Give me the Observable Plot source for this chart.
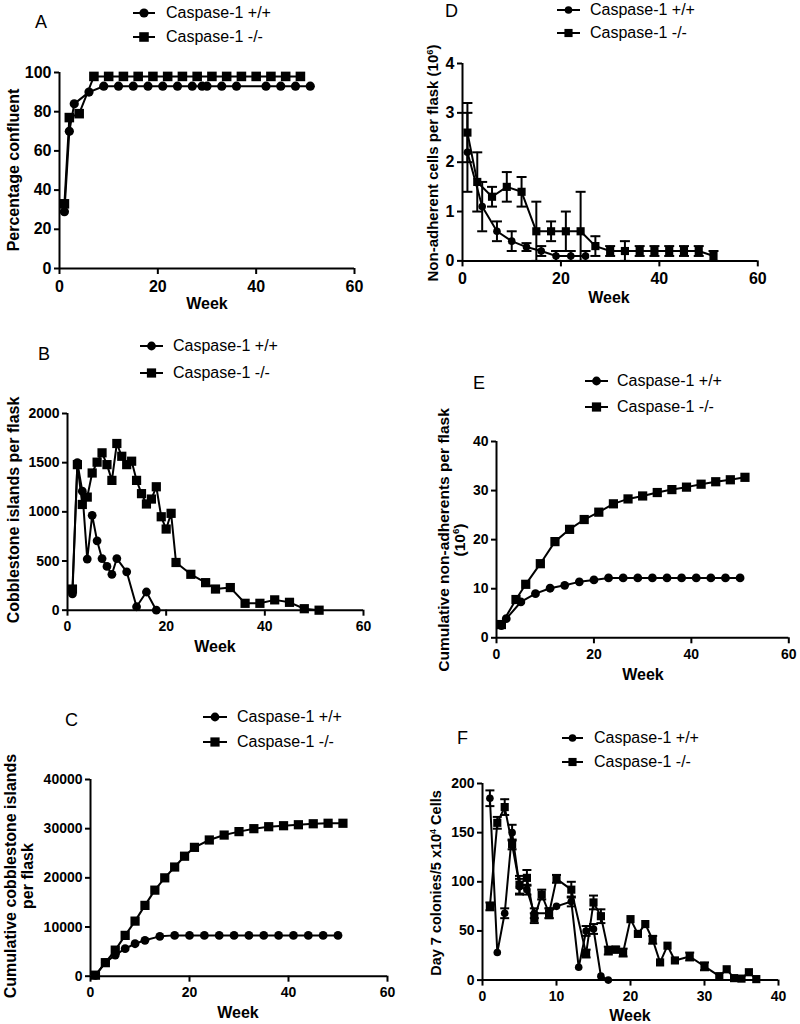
<!DOCTYPE html>
<html>
<head>
<meta charset="utf-8">
<script src="https://cdn.jsdelivr.net/npm/d3@7"></script>
<script src="https://cdn.jsdelivr.net/npm/@observablehq/plot@0.6"></script>
<style>
  body { margin: 0; background: #fff; }
  #fig { position: relative; width: 800px; height: 1024px; overflow: hidden; background: #fff;
         font-family: "Liberation Sans", Arial, Helvetica, sans-serif; color: #000; }
  .abs { position: absolute; white-space: nowrap; line-height: 1; }
  .ytitle { font-weight: bold; text-align: center; transform: translate(-50%, -50%) rotate(-90deg); line-height: 1.05; }
  .xtitle { font-weight: bold; font-size: 16px; transform: translate(-50%, -50%); }
  .letter { font-size: 18px; transform: translateY(-50%); }
  .legtext { font-size: 16px; transform: translateY(-50%); }
  sup { font-size: 0.62em; vertical-align: 0.55em; line-height: 0; }
  #fig g[aria-label$="axis tick"] path, #fig g[aria-label$="axis"] .tick line { stroke-width: 2px; }
</style>
</head>
<body>
<div id="fig"></div>
<script>
// ---------------- DATA ----------------
const seriesNames = ["Caspase-1 +/+", "Caspase-1 -/-"];

// A: Percentage confluent
const aWeeksWT = [1, 2, 3, 6, 9, 12, 15, 18, 21, 24, 27, 29, 30, 33, 36, 42, 45, 48, 51];
const aValsWT  = [29, 70, 84, 90, 93, 93, 93, 93, 93, 93, 93, 93, 93, 93, 93, 93, 93, 93, 93];
const aWeeksKO = [1, 2, 4, 7, 10, 13, 16, 19, 22, 25, 28, 31, 34, 37, 40, 43, 46, 49];
const aValsKO  = [33, 77, 79, 98, 98, 98, 98, 98, 98, 98, 98, 98, 98, 98, 98, 98, 98, 98];

// B: Cobblestone islands per flask
const bWeeksWT = [1, 2, 3, 4, 5, 6, 7, 8, 9, 10, 12, 14, 16, 18];
const bValsWT  = [165, 1500, 1210, 520, 965, 705, 525, 445, 365, 525, 390, 35, 185, 0];
const bWeeksKO = [1, 2, 3, 4, 5, 6, 7, 8, 9, 10, 11, 12, 13, 14, 15, 16, 17, 18, 19, 20, 21, 22, 25, 28, 30, 33, 36, 39, 42, 45, 48, 51];
const bValsKO  = [215, 1480, 1075, 1150, 1395, 1505, 1600, 1480, 1320, 1695, 1565, 1480, 1515, 1320, 1185, 1080, 1130, 1255, 950, 825, 985, 485, 365, 280, 215, 230, 70, 70, 105, 80, 15, 0];

// C: Cumulative cobblestone islands per flask
const cWeeksWT = [1, 3, 5, 7, 9, 11, 14, 17, 20, 23, 26, 29, 32, 35, 38, 41, 44, 47, 50];
const cValsWT  = [170, 2750, 4300, 5600, 6600, 7300, 8100, 8300, 8300, 8300, 8300, 8300, 8300, 8300, 8300, 8300, 8300, 8300, 8300];
const cWeeksKO = [1, 3, 5, 7, 9, 11, 13, 15, 17, 19, 21, 24, 27, 30, 33, 36, 39, 42, 45, 48, 51];
const cValsKO  = [210, 2750, 5300, 8300, 11200, 14400, 17500, 20000, 22200, 24400, 26200, 27700, 28700, 29400, 30000, 30400, 30600, 30800, 31000, 31100, 31100];

// D: Non-adherent cells per flask (10^6), mean and error
const dWeeksWT = [1, 4, 7, 10, 13, 16, 19, 22, 25];
const dValsWT  = [2.2, 1.1, 0.6, 0.4, 0.28, 0.2, 0.1, 0.1, 0.1];
const dErrWT   = [0.8, 0.5, 0.2, 0.2, 0.08, 0.1, 0.1, 0.1, 0.1];
const dWeeksKO = [1, 3, 6, 9, 12, 15, 18, 21, 24, 27, 30, 33, 36, 39, 42, 45, 48, 51];
const dValsKO  = [2.6, 1.6, 1.3, 1.5, 1.4, 0.6, 0.6, 0.6, 0.6, 0.3, 0.2, 0.2, 0.2, 0.2, 0.2, 0.2, 0.2, 0.1];
const dErrKO   = [0.6, 0.6, 0.2, 0.3, 0.3, 0.6, 0.2, 0.4, 0.8, 0.2, 0.1, 0.2, 0.1, 0.1, 0.1, 0.1, 0.1, 0.1];

// E: Cumulative non-adherents per flask (10^6)
const eWeeksWT = [1, 2, 5, 8, 11, 14, 17, 20, 23, 26, 29, 32, 35, 38, 41, 44, 47, 50];
const eValsWT  = [2.5, 3.9, 7.3, 9.0, 10.1, 10.7, 11.4, 11.8, 12.2, 12.2, 12.2, 12.2, 12.2, 12.2, 12.2, 12.2, 12.2, 12.2];
const eWeeksKO = [1, 4, 6, 9, 12, 15, 18, 21, 24, 27, 30, 33, 36, 39, 42, 45, 48, 51];
const eValsKO  = [2.7, 7.8, 10.9, 15.1, 19.6, 22.1, 24.1, 25.6, 27.3, 28.3, 28.9, 29.6, 30.2, 30.7, 31.3, 31.8, 32.2, 32.7];

// F: Day 7 colonies / 5x10^4 cells, mean and error
const fWeeksWT = [1, 2, 3, 4, 5, 6, 7, 9, 10, 12, 13, 14, 15, 16, 17];
const fValsWT  = [185, 28, 68, 150, 95, 92, 68, 68, 75, 80, 13, 50, 52, 4, 0];
const fErrWT   = [8, 0, 5, 8, 8, 5, 5, 5, 0, 5, 0, 5, 5, 0, 0];
const fWeeksKO = [1, 2, 3, 4, 5, 6, 7, 8, 9, 10, 12, 14, 15, 16, 17, 18, 19, 20, 21, 22, 23, 24, 25, 26, 28, 30, 32, 33, 34, 35, 36, 37];
const fValsKO  = [75, 160, 176, 138, 97, 104, 63, 87, 68, 103, 92, 27, 79, 65, 30, 31, 28, 62, 47, 57, 41, 18, 35, 20, 24, 14, 4, 11, 2, 1.5, 8, 1];
const fErrKO   = [4, 6, 8, 5, 9, 8, 5, 5, 5, 4, 8, 4, 7, 7, 4, 3, 4, 0, 0, 0, 4, 0, 0, 0, 4, 4, 0, 0, 0, 0, 0, 0];

// tick values
const ticksWeek60 = [0, 20, 40, 60];
const ticksWeek40 = [0, 10, 20, 30, 40];
const ticksA = [0, 20, 40, 60, 80, 100];
const ticksB = [0, 500, 1000, 1500, 2000];
const ticksC = [0, 10000, 20000, 30000, 40000];
const ticksD = [0, 1, 2, 3, 4];
const ticksE = [0, 10, 20, 30, 40];
const ticksF = [0, 50, 100, 150, 200];

// ---------------- LAYOUT ----------------
const FONT = '"Liberation Sans", Arial, Helvetica, sans-serif';
const fig = document.getElementById("fig");

const rows = (w, v, e) => w.map((wk, i) => ({week: wk, v: v[i], e: e ? e[i] : 0}));

const capSymbol = {
  draw(ctx, size) {
    const r = Math.sqrt(size / Math.PI);
    ctx.moveTo(-r, 0);
    ctx.lineTo(r, 0);
  }
};

const panels = [
  {letter: "A", fx: [59, 354], fy: [72, 268], xd: [0, 60], xt: ticksWeek60, yd: [0, 100], yt: ticksA, fs: 16,
   wt: rows(aWeeksWT, aValsWT), ko: rows(aWeeksKO, aValsKO), cR: 4.6, sR: 5.4,
   letterPos: [35, 22], leg: {x0: 133, x1: 155, tx: 166, y: [13, 37]},
   ytitle: {cx: 14, cy: 170, fs: 16, html: "Percentage confluent"}, xtitle: [207, 304]},
  {letter: "D", fx: [461.7, 757], fy: [63.3, 260.7], xd: [0, 60], xt: ticksWeek60, yd: [0, 4], yt: ticksD, fs: 16,
   wt: rows(dWeeksWT, dValsWT, dErrWT), ko: rows(dWeeksKO, dValsKO, dErrKO), cR: 3.8, sR: 4.6, capR: 5, err: true,
   letterPos: [445, 11], leg: {x0: 557, x1: 580, tx: 590, y: [10, 33]},
   ytitle: {cx: 433, cy: 163, fs: 15, html: "Non-adherent cells per flask (10<sup>6</sup>)"}, xtitle: [609, 298]},
  {letter: "B", fx: [66.7, 362.7], fy: [413.3, 610], xd: [0, 60], xt: ticksWeek60, yd: [0, 2000], yt: ticksB, fs: 14,
   wt: rows(bWeeksWT, bValsWT), ko: rows(bWeeksKO, bValsKO), cR: 4.4, sR: 5.2,
   letterPos: [38, 354], leg: {x0: 140, x1: 163, tx: 173, y: [346, 373]},
   ytitle: {cx: 14, cy: 510, fs: 16, html: "Cobblestone islands per flask"}, xtitle: [215, 647]},
  {letter: "E", fx: [495.7, 788], fy: [441, 637.3], xd: [0, 60], xt: ticksWeek60, yd: [0, 40], yt: ticksE, fs: 14,
   wt: rows(eWeeksWT, eValsWT), ko: rows(eWeeksKO, eValsKO), cR: 4.4, sR: 5.2,
   letterPos: [473, 383], leg: {x0: 585, x1: 608, tx: 617, y: [381, 407]},
   ytitle: {cx: 452, cy: 540, fs: 15.5, html: "Cumulative non-adherents per flask<br>(10<sup>6</sup>)"}, xtitle: [643, 675]},
  {letter: "C", fx: [90, 387], fy: [779.3, 976], xd: [0, 60], xt: ticksWeek60, yd: [0, 40000], yt: ticksC, fs: 14,
   wt: rows(cWeeksWT, cValsWT), ko: rows(cWeeksKO, cValsKO), cR: 4.4, sR: 5.2,
   letterPos: [65, 720], leg: {x0: 203, x1: 227, tx: 237, y: [717, 742]},
   ytitle: {cx: 20, cy: 876, fs: 16, html: "Cumulative cobblestone islands<br>per flask"}, xtitle: [238, 1013]},
  {letter: "F", fx: [482.3, 778.3], fy: [782.7, 979.3], xd: [0, 40], xt: ticksWeek40, yd: [0, 200], yt: ticksF, fs: 14,
   wt: rows(fWeeksWT, fValsWT, fErrWT), ko: rows(fWeeksKO, fValsKO, fErrKO), cR: 3.8, sR: 4.6, capR: 4.5, err: true,
   letterPos: [457, 738], leg: {x0: 562, x1: 583, tx: 594, y: [738, 762]},
   ytitle: {cx: 437, cy: 883, fs: 14.5, html: "Day 7 colonies/5 x10<sup>4</sup> Cells"}, xtitle: [630, 1016]}
];

function addDiv(cls, x, y, html, extra) {
  const d = document.createElement("div");
  d.className = "abs " + cls;
  d.style.left = x + "px";
  d.style.top = y + "px";
  d.innerHTML = html;
  if (extra) Object.assign(d.style, extra);
  fig.appendChild(d);
  return d;
}

function legendMarker(x0, x1, y, square, r) {
  const ns = "http://www.w3.org/2000/svg";
  const s = document.createElementNS(ns, "svg");
  const w = x1 - x0 + 4, h = 16;
  s.setAttribute("width", w); s.setAttribute("height", h);
  s.style.position = "absolute"; s.style.left = (x0 - 2) + "px"; s.style.top = (y - h / 2) + "px";
  const ln = document.createElementNS(ns, "line");
  ln.setAttribute("x1", 2); ln.setAttribute("x2", w - 2); ln.setAttribute("y1", h / 2); ln.setAttribute("y2", h / 2);
  ln.setAttribute("stroke", "black"); ln.setAttribute("stroke-width", 2);
  s.appendChild(ln);
  const cx = w / 2;
  let m;
  if (square) {
    const side = r * Math.sqrt(Math.PI);
    m = document.createElementNS(ns, "rect");
    m.setAttribute("x", cx - side / 2); m.setAttribute("y", h / 2 - side / 2);
    m.setAttribute("width", side); m.setAttribute("height", side);
  } else {
    m = document.createElementNS(ns, "circle");
    m.setAttribute("cx", cx); m.setAttribute("cy", h / 2); m.setAttribute("r", r);
  }
  m.setAttribute("fill", "black");
  s.appendChild(m);
  fig.appendChild(s);
}

for (const p of panels) {
  const mL = 64, mR = 24, mT = 10, mB = 34;
  const fw = p.fx[1] - p.fx[0], fh = p.fy[1] - p.fy[0];
  const marks = [];
  for (const [d, sym, r] of [[p.ko, "square", p.sR], [p.wt, "circle", p.cR]]) {
    marks.push(Plot.line(d, {x: "week", y: "v", stroke: "black", strokeWidth: 2}));
    if (p.err) {
      const de = d.filter(q => q.e > 0);
      const lo = q => Math.max(0, q.v - q.e), hi = q => q.v + q.e;
      marks.push(Plot.ruleX(de, {x: "week", y1: lo, y2: hi, stroke: "black", strokeWidth: 2}));
      marks.push(Plot.dot(de, {x: "week", y: lo, symbol: capSymbol, r: p.capR, stroke: "black", strokeWidth: 2, fill: "none"}));
      marks.push(Plot.dot(de, {x: "week", y: hi, symbol: capSymbol, r: p.capR, stroke: "black", strokeWidth: 2, fill: "none"}));
    }
    marks.push(Plot.dot(d, {x: "week", y: "v", symbol: sym, r: r, fill: "black", stroke: "none"}));
  }
  marks.push(Plot.ruleY([p.yd[0]], {stroke: "black", strokeWidth: 2}));
  marks.push(Plot.ruleX([p.xd[0]], {stroke: "black", strokeWidth: 2}));

  const svg = Plot.plot({
    width: fw + mL + mR,
    height: fh + mT + mB,
    marginLeft: mL, marginRight: mR, marginTop: mT, marginBottom: mB,
    style: {fontFamily: FONT, fontSize: p.fs + "px", fontWeight: "bold", color: "black", background: "transparent", overflow: "visible"},
    x: {domain: p.xd, ticks: p.xt, tickSize: 6, tickPadding: p.fs > 15 ? 6 : 5, label: null, tickFormat: d => String(d)},
    y: {domain: p.yd, ticks: p.yt, tickSize: 5, tickPadding: 3, label: null, tickFormat: d => String(d)},
    marks
  });
  svg.style.position = "absolute";
  svg.style.left = (p.fx[0] - mL) + "px";
  svg.style.top = (p.fy[0] - mT) + "px";
  fig.appendChild(svg);

  addDiv("letter", p.letterPos[0], p.letterPos[1], p.letter);
  legendMarker(p.leg.x0, p.leg.x1, p.leg.y[0], false, p.cR);
  legendMarker(p.leg.x0, p.leg.x1, p.leg.y[1], true, p.sR);
  addDiv("legtext", p.leg.tx, p.leg.y[0], seriesNames[0]);
  addDiv("legtext", p.leg.tx, p.leg.y[1], seriesNames[1]);
  addDiv("ytitle", p.ytitle.cx, p.ytitle.cy, p.ytitle.html, {fontSize: p.ytitle.fs + "px"});
  addDiv("xtitle", p.xtitle[0], p.xtitle[1], "Week");
}
</script>
</body>
</html>
